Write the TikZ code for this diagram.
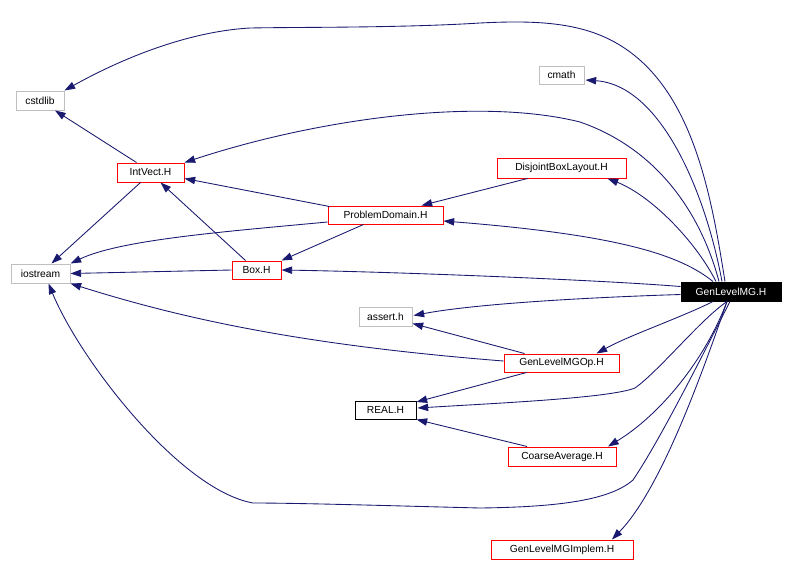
\documentclass[tikz,border=0pt]{standalone}
\usepackage{fontspec}
\setmainfont{Liberation Sans}
\usetikzlibrary{arrows.meta,calc}
\definecolor{edgeblue}{RGB}{25,25,112}
\definecolor{boxgray}{RGB}{191,191,191}
\tikzset{
  file/.style={draw, rectangle, line width=0.75pt, inner sep=0pt, minimum height=14.25pt, font=\fontsize{7.7pt}{9pt}\selectfont, text=black},
  sys/.style={file, draw=boxgray},
  red/.style={file, draw=red},
  plain/.style={file, draw=black},
  root/.style={file, draw=black, fill=black, text=white},
  dep/.style={draw=edgeblue, line width=0.65pt, -{Triangle[length=8pt,width=5.5pt]}, color=edgeblue},
}
\begin{document}
\begin{tikzpicture}[x=0.75pt,y=-0.75pt]
\useasboundingbox (0,0) rectangle (794,561);
\fill[white] (0,0) rectangle (794,561);
% nodes
\node[sys, minimum width=36pt] (cstdlib) at (40,100.5) {cstdlib};
\node[sys, minimum width=33.75pt, minimum height=13.5pt] (cmath) at (561.5,75) {cmath};
\node[red, minimum width=50.25pt] (intvect) at (150.5,172.5) {IntVect.H};
\node[red, minimum width=96.75pt, minimum height=15pt] (dbl) at (561.5,168) {DisjointBoxLayout.H};
\node[red, minimum width=86.25pt, minimum height=13.5pt] (pd) at (385.5,215) {ProblemDomain.H};
\node[sys, minimum width=44.25pt] (iostream) at (40.5,273.5) {iostream};
\node[red, minimum width=36.75pt, minimum height=13.5pt] (box) at (256.5,270) {Box.H};
\node[root, minimum width=75pt] (g) at (731,291.5) {GenLevelMG.H};
\node[sys, minimum width=39.75pt] (assert) at (385.5,316.5) {assert.h};
\node[red, minimum width=86.25pt, minimum height=13.5pt] (op) at (561.5,363) {GenLevelMGOp.H};
\node[plain, minimum width=45.75pt, minimum height=13.5pt] (real) at (385.5,410) {REAL.H};
\node[red, minimum width=81pt] (ca) at (562,456.5) {CoarseAverage.H};
\node[red, minimum width=106.5pt] (impl) at (562,549.5) {GenLevelMGImplem.H};
% edges from GenLevelMG.H (top)
\draw[dep] ($(g.north)+(-6,0)$) .. controls (712,200) and (695,100) .. (630,52)
  .. controls (590,22) and (540,20) .. (480,23)
  .. controls (400,28) and (300,27) .. (250,28)
  .. controls (180,32) and (110,65) .. (cstdlib.north east);
\draw[dep] ($(g.north)+(-9,0)$) .. controls (705,190) and (660,85) .. ($(cmath.east)+(1,5)$);
\draw[dep] ($(g.north)+(-12,0)$) .. controls (700,210) and (655,148) .. (580,122)
  .. controls (480,97) and (320,118) .. (intvect.north east);
\draw[dep] ($(g.north)+(-15,0)$) .. controls (695,240) and (650,195) .. ($(dbl.south)+(46,0)$);
\draw[dep] ($(g.north)+(-18,0)$) .. controls (680,255) and (620,235) .. ($(pd.east)+(0,6)$);
% edges from GenLevelMG.H (left)
\draw[dep] ($(g.west)+(0,-5)$) .. controls (600,280) and (400,272) .. (box.east);
\draw[dep] ($(g.west)+(0,3)$) .. controls (600,297) and (480,303) .. ($(assert.east)+(1,-1)$);
% edges from GenLevelMG.H (bottom)
\draw[dep] ($(g.south)+(-18,0)$) .. controls (680,318) and (630,335) .. ($(op.north)+(35,0)$);
\draw[dep] ($(g.south)+(-4,0)$) .. controls (700,320) and (660,370) .. (635,388)
  .. controls (610,398) and (500,403) .. ($(real.east)+(1,-2)$);
\draw[dep] ($(g.south)+(-4,0)$) .. controls (705,360) and (660,415) .. ($(ca.north)+(46,0)$);
\draw[dep] ($(g.south)+(-1,0)$) .. controls (700,360) and (660,440) .. (633,480)
  .. controls (610,500) and (560,507) .. (480,508)
  .. controls (400,506) and (300,503) .. (253,503)
  .. controls (180,490) and (80,360) .. ($(iostream.south)+(8,0)$);
\draw[dep] ($(g.south)+(-4,0)$) .. controls (700,380) and (660,490) .. ($(impl.north)+(50,0)$);
% other edges
\draw[dep] ($(intvect.north)+(-14,0)$) -- ($(cstdlib.south)+(15,0)$);
\draw[dep] ($(intvect.south)+(-10,0)$) -- ($(iostream.north)+(11,0)$);
\draw[dep] ($(pd.north west)+(2,1)$) -- ($(intvect.east)+(0,6)$);
\draw[dep] ($(pd.west)+(0,7)$) .. controls (220,232) and (120,240) .. (iostream.north east);
\draw[dep] ($(pd.south)+(-22,0)$) -- (box.north east);
\draw[dep] ($(dbl.south)+(-34,0)$) -- ($(pd.north)+(36,0)$);
\draw[dep] ($(box.north)+(-11,0)$) -- ($(intvect.south)+(10,0)$);
\draw[dep] (box.west) -- (iostream.east);
\draw[dep] ($(op.west)+(0,-2)$) .. controls (300,345) and (180,318) .. (iostream.south east);
\draw[dep] ($(op.north)+(-37,0)$) -- ($(assert.east)+(0,7)$);
\draw[dep] ($(op.south)+(-35,0)$) -- ($(real.east)+(0,-8)$);
\draw[dep] ($(ca.north)+(-35,0)$) -- (real.south east);
\end{tikzpicture}
\end{document}
